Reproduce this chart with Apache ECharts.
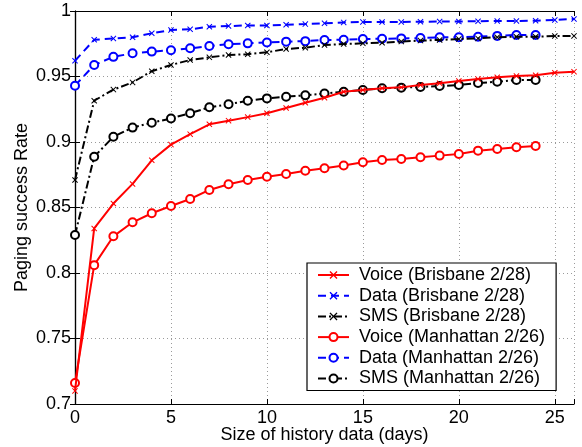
<!DOCTYPE html>
<html><head><meta charset="utf-8">
<script src="https://cdn.jsdelivr.net/npm/echarts@6/dist/echarts.min.js"></script>
<style>html,body{margin:0;padding:0;background:#fff}#c{width:582px;height:447px}</style>
</head><body><div id="c"></div>
<script>
const days = [0,1,2,3,4,5,6,7,8,9,10,11,12,13,14,15,16,17,18,19,20,21,22,23,24,25,26];
const voiceBrisbane = [0.710,0.834,0.853,0.868,0.886,0.898,0.906,0.9135,0.9163,0.919,0.922,0.926,0.930,0.9338,0.9384,0.9397,0.941,0.9417,0.9435,0.9448,0.9466,0.948,0.9494,0.9504,0.951,0.9529,0.9537];
const dataBrisbane = [0.962,0.978,0.979,0.980,0.983,0.9855,0.986,0.988,0.9885,0.989,0.989,0.9895,0.990,0.9906,0.9913,0.9916,0.9916,0.9916,0.9918,0.992,0.992,0.9922,0.9924,0.9924,0.9926,0.9932,0.9939];
const smsBrisbane = [0.871,0.9315,0.940,0.9455,0.954,0.9588,0.9626,0.9646,0.9664,0.967,0.9685,0.971,0.972,0.974,0.9748,0.9753,0.9758,0.9767,0.9774,0.9779,0.9786,0.9791,0.980,0.9804,0.9804,0.9809,0.981];
const voiceManhattan = [0.716,0.806,0.828,0.8387,0.8456,0.8511,0.8565,0.8634,0.8677,0.871,0.8735,0.8756,0.878,0.880,0.882,0.8845,0.8863,0.887,0.8883,0.8896,0.8908,0.8934,0.8947,0.896,0.897];
const dataManhattan = [0.943,0.9588,0.965,0.9677,0.969,0.970,0.9715,0.9733,0.9746,0.9753,0.976,0.9766,0.977,0.9779,0.978,0.9786,0.9788,0.9791,0.9793,0.980,0.980,0.9804,0.981,0.9817,0.9817];
const smsManhattan = [0.829,0.8888,0.904,0.911,0.9147,0.918,0.922,0.9265,0.9288,0.9315,0.9333,0.9346,0.9356,0.937,0.9384,0.9397,0.941,0.9415,0.942,0.9427,0.9435,0.945,0.946,0.9473,0.9473];
const seriesNames = ['Voice (Brisbane 2/28)','Data (Brisbane 2/28)','SMS (Brisbane 2/28)','Voice (Manhattan 2/26)','Data (Manhattan 2/26)','SMS (Manhattan 2/26)'];
const xTicks = [0,5,10,15,20,25];
const yTickLabels = ['0.7','0.75','0.8','0.85','0.9','0.95','1'];

const FONT = 'Liberation Sans';
const X_MARK = 'path://M0,1.2L1.2,0L5,3.8L8.8,0L10,1.2L6.2,5L10,8.8L8.8,10L5,6.2L1.2,10L0,8.8L3.8,5Z';
function pairs(vals){ return vals.map((v,i)=>[days[i],v]); }
const styles = [
  {vals:voiceBrisbane,color:'#ff0000',type:'solid',sym:X_MARK,size:6},
  {vals:dataBrisbane,color:'#0000ff',type:[8,5],sym:X_MARK,size:6},
  {vals:smsBrisbane,color:'#000000',type:[8,3,2,3],sym:X_MARK,size:6},
  {vals:voiceManhattan,color:'#ff0000',type:'solid',sym:'emptyCircle',size:8},
  {vals:dataManhattan,color:'#0000ff',type:[8,5],sym:'emptyCircle',size:8},
  {vals:smsManhattan,color:'#000000',type:[8,3,2,3],sym:'emptyCircle',size:8}
];
const series = styles.map((s,i)=>({
  name: seriesNames[i], type:'line', data:pairs(s.vals),
  symbol:s.sym, symbolSize:s.size, showAllSymbol:true, animation:false,
  lineStyle:{color:s.color,width:2,type:s.type},
  itemStyle:{color:s.color,borderColor:s.color,borderWidth:s.sym===X_MARK?0:1.8},
  z: 10-i
}));

const chart = echarts.init(document.getElementById('c'),null,{renderer:'canvas'});
const axisCommon = {
  axisLine:{show:true,lineStyle:{color:'#000',width:1.2}},
  axisTick:{show:true,inside:true,length:5,lineStyle:{color:'#000'}}
};
chart.setOption({
  animation:false,
  grid:{left:75,right:8,top:11,bottom:43,containLabel:false,outerBoundsMode:'none'},
  xAxis:[
    Object.assign({type:'value',min:0,max:26,interval:5,position:'bottom',
      name:'Size of history data (days)',nameLocation:'middle',nameGap:22,nameMoveOverlap:false,
      nameTextStyle:{fontFamily:FONT,fontSize:18,color:'#000',verticalAlign:'top'},
      axisLabel:{fontFamily:FONT,fontSize:18,color:'#000',margin:5,
        formatter:v=>xTicks.includes(v)?String(v):''},
      splitLine:{show:true,lineStyle:{color:'#9a9a9a',type:[1,3],width:1}}},axisCommon),
    Object.assign({type:'value',min:0,max:26,interval:5,position:'top',
      axisLabel:{show:false},splitLine:{show:false}},axisCommon)
  ],
  yAxis:[
    Object.assign({type:'value',min:0.7,max:1,interval:0.05,position:'left',
      name:'Paging success Rate',nameLocation:'middle',nameGap:44,nameRotate:90,nameMoveOverlap:false,
      nameTextStyle:{fontFamily:FONT,fontSize:18,color:'#000'},
      axisLabel:{fontFamily:FONT,fontSize:18,color:'#000',margin:4,
        formatter:v=>yTickLabels[Math.round((v-0.7)/0.05)]},
      splitLine:{show:true,lineStyle:{color:'#9a9a9a',type:[1,3],width:1}}},axisCommon),
    Object.assign({type:'value',min:0.7,max:1,interval:0.05,position:'right',
      axisLabel:{show:false},splitLine:{show:false}},axisCommon)
  ],
  legend:{
    orient:'vertical',left:307,top:263,
    backgroundColor:'#fff',borderColor:'#000',borderWidth:1.2,borderRadius:0,
    padding:[3,11,3,10],itemWidth:31,itemHeight:10,itemGap:2.7,
    textStyle:{fontFamily:FONT,fontSize:18,color:'#000',padding:[0,0,0,5]},
    data:seriesNames
  },
  series:series
});
</script></body></html>
